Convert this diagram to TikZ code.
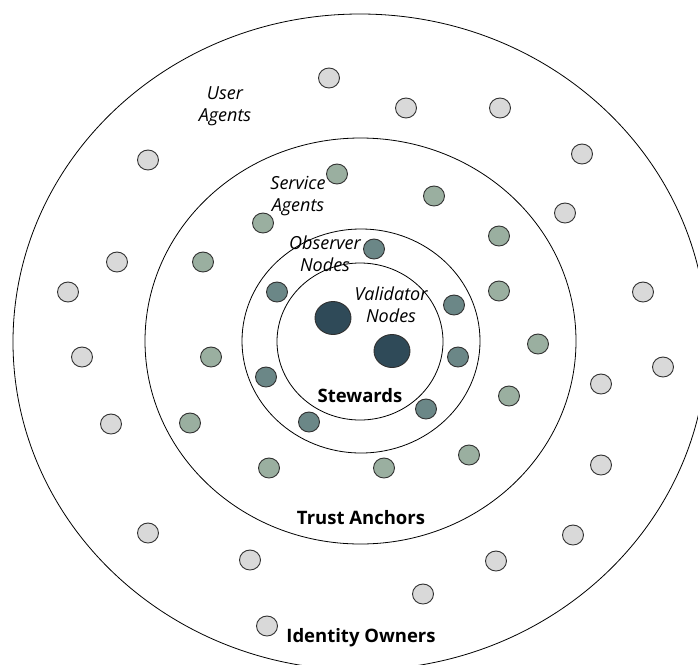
\documentclass[tikz,border=0pt]{standalone}
\usepackage{fontspec}
\setmainfont{Open Sans}
\usetikzlibrary{shapes.geometric}

\definecolor{userfill}{HTML}{D9D9D9}
\definecolor{servicefill}{HTML}{9AAFA0}
\definecolor{observerfill}{HTML}{6B8787}
\definecolor{validatorfill}{HTML}{2F4A58}
\definecolor{dotline}{HTML}{303030}

\tikzset{
  ring/.style={draw=black, line width=0.8pt, ellipse, inner sep=0pt},
  dot/.style={draw=dotline, line width=0.9pt, ellipse, inner sep=0pt,
    minimum width=21pt, minimum height=20pt},
  userdot/.style={dot, fill=userfill},
  servicedot/.style={dot, fill=servicefill},
  observerdot/.style={dot, fill=observerfill},
  validatordot/.style={dot, fill=validatorfill, minimum width=36pt, minimum height=33pt},
  tierlabel/.style={font=\fontsize{18}{22}\selectfont\itshape, align=center, inner sep=0pt},
  ringlabel/.style={font=\fontsize{18.5}{20}\selectfont\bfseries, inner sep=0pt},
}

\begin{document}
\begin{tikzpicture}[x=1pt, y=-1pt]
  \useasboundingbox (0,0) rectangle (698,664);
  \clip (0,0) rectangle (698,664);

  % concentric rings
  \node[ring, minimum width=694pt, minimum height=656pt] (owners) at (360,342) {};
  \node[ring, minimum width=431pt, minimum height=406pt] (anchors) at (360.5,341) {};
  \node[ring, minimum width=238pt, minimum height=224pt] (observers) at (361,341) {};
  \node[ring, minimum width=166pt, minimum height=157pt] (stewards) at (360,341.5) {};

  % user agents
  \foreach \x/\y [count=\i] in {329/78, 406/108, 500/108, 582/154, 148/160,
      565/213, 117/262, 68/292, 643/292, 82/357, 663/367, 601/384, 111/424,
      601/465, 148/533, 573/535, 250/560, 496/561, 423/594, 267/626}
    \node[userdot] (user\i) at (\x,\y) {};

  % service agents
  \foreach \x/\y [count=\i] in {337/174, 434/196, 263/223, 499/236, 203/262,
      499/291, 538/344, 211/357, 509/396, 190/423, 469/455, 269/468, 384/468}
    \node[servicedot] (service\i) at (\x,\y) {};

  % observer nodes
  \foreach \x/\y [count=\i] in {374/249, 277/292, 454/305, 458/357, 266/377,
      426/409, 309/422}
    \node[observerdot] (observer\i) at (\x,\y) {};

  % validator nodes
  \node[validatordot] (validator1) at (333,318) {};
  \node[validatordot] (validator2) at (392,351) {};

  % tier labels
  \node[tierlabel] (lblUser) at (225,106) {User\\Agents};
  \node[tierlabel] (lblService) at (298,196) {Service\\Agents};
  \node[tierlabel] (lblObserver) at (325,254) {Observer\\Nodes};
  \node[tierlabel] (lblValidator) at (391,305) {Validator\\Nodes};

  % ring labels
  \node[ringlabel] (lblStewards) at (360,396) {Stewards};
  \node[ringlabel] (lblAnchors) at (361,518) {Trust Anchors};
  \node[ringlabel] (lblOwners) at (361,638) {Identity Owners};
\end{tikzpicture}
\end{document}
